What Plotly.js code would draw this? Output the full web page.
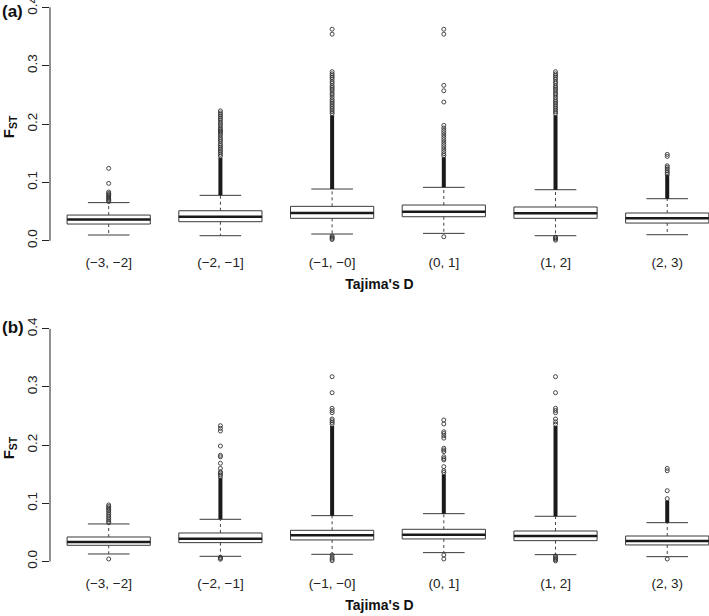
<!DOCTYPE html>
<html>
<head>
<meta charset="utf-8">
<script src="https://cdn.plot.ly/plotly-3.0.1.min.js"></script>
<style>html,body{margin:0;padding:0;background:#fff;}#chart{width:709px;height:616px;}</style>
</head>
<body>
<div id="chart"></div>
<script>
// ---- data ----
const categories = ["(\u22123, \u22122]", "(\u22122, \u22121]", "(\u22121, \u22120]", "(0, 1]", "(1, 2]", "(2, 3)"];
const yTickVals = [0, 0.1, 0.2, 0.3, 0.4];
const yTickText = ["0.0", "0.1", "0.2", "0.3", "0.4"];

// panel (a)
const aLower  = [0.0098, 0.0086, 0.0115, 0.0126, 0.0086, 0.0103];
const aQ1     = [0.0286, 0.0326, 0.0384, 0.0411, 0.0384, 0.0303];
const aMedian = [0.0362, 0.0411, 0.0477, 0.0497, 0.0469, 0.0384];
const aQ3     = [0.0440, 0.0514, 0.0589, 0.0612, 0.0578, 0.0475];
const aUpper  = [0.0653, 0.0778, 0.0886, 0.0915, 0.0874, 0.0720];
const aDenseLo = [null, 0.0778, 0.0886, 0.0915, 0.0874, 0.0720];
const aDenseHi = [null, 0.1420, 0.2150, 0.1430, 0.2150, 0.1130];
const aOutliers = [
  [0.124, 0.0983, 0.0835, 0.081, 0.079, 0.077, 0.075, 0.073, 0.071, 0.069, 0.067],
  [0.145, 0.148, 0.151, 0.154, 0.157, 0.160, 0.163, 0.166, 0.170, 0.173, 0.176, 0.180, 0.183, 0.186, 0.188, 0.190, 0.193, 0.197, 0.200, 0.203, 0.207, 0.210, 0.213, 0.216, 0.219, 0.2225],
  [0.002, 0.004, 0.006, 0.008, 0.218, 0.221, 0.224, 0.227, 0.230, 0.233, 0.236, 0.239, 0.242, 0.246, 0.250, 0.253, 0.257, 0.260, 0.263, 0.266, 0.270, 0.273, 0.277, 0.280, 0.283, 0.286, 0.2897, 0.354, 0.3625],
  [0.0069, 0.146, 0.149, 0.153, 0.157, 0.161, 0.165, 0.169, 0.173, 0.177, 0.181, 0.185, 0.189, 0.193, 0.1977, 0.2377, 0.257, 0.2663, 0.354, 0.3625],
  [0.001, 0.003, 0.005, 0.006, 0.218, 0.221, 0.224, 0.227, 0.230, 0.233, 0.236, 0.239, 0.242, 0.246, 0.250, 0.253, 0.257, 0.260, 0.263, 0.266, 0.270, 0.273, 0.277, 0.280, 0.283, 0.286, 0.2897],
  [0.114, 0.117, 0.120, 0.123, 0.126, 0.1285, 0.1446, 0.148]
];

// panel (b)
const bLower  = [0.0129, 0.0089, 0.0123, 0.0152, 0.0117, 0.0083];
const bQ1     = [0.0278, 0.0324, 0.0370, 0.0387, 0.0358, 0.0284];
const bMedian = [0.0335, 0.0392, 0.0450, 0.0461, 0.0438, 0.0352];
const bQ3     = [0.0421, 0.0490, 0.0536, 0.0553, 0.0524, 0.0438];
const bUpper  = [0.0645, 0.0725, 0.0788, 0.0822, 0.0777, 0.0667];
const bDenseLo = [null, 0.0725, 0.0788, 0.0822, 0.0777, 0.0667];
const bDenseHi = [null, 0.1440, 0.2330, 0.1500, 0.2330, 0.1050];
const bOutliers = [
  [0.0043, 0.0667, 0.069, 0.072, 0.075, 0.078, 0.081, 0.084, 0.087, 0.0895, 0.092, 0.0945, 0.0971],
  [0.0038, 0.0055, 0.0072, 0.146, 0.149, 0.152, 0.154, 0.160, 0.1688, 0.180, 0.1825, 0.1985, 0.2243, 0.229, 0.2334],
  [0.0014, 0.004, 0.007, 0.0112, 0.236, 0.239, 0.242, 0.245, 0.2558, 0.2595, 0.2633, 0.2902, 0.3177],
  [0.0043, 0.0112, 0.153, 0.156, 0.163, 0.1745, 0.177, 0.180, 0.1888, 0.1917, 0.1946, 0.212, 0.216, 0.220, 0.223, 0.2364, 0.2432],
  [0.001, 0.003, 0.005, 0.007, 0.0095, 0.236, 0.240, 0.245, 0.2558, 0.2595, 0.2633, 0.2902, 0.3177],
  [0.0043, 0.108, 0.1217, 0.156, 0.160]
];

// ---- drawing ----
const BOXW = 0.745;
const STAPLE = BOXW / 4;
const ink = '#1a1a1a';

function panelTraces(lower, q1, med, q3, upper, dLo, dHi, outl, xa, ya) {
  const pos = categories.map((c, i) => i + 1);
  const traces = [];
  traces.push({
    type: 'box', x: pos, q1: q1, median: med, q3: q3,
    lowerfence: q1, upperfence: q3, width: BOXW, whiskerwidth: 0,
    fillcolor: 'white', line: {color: '#3a3a3a', width: 1},
    boxpoints: false, hoverinfo: 'skip', xaxis: xa, yaxis: ya
  });
  const wx = [], wy = [], sx = [], sy = [], mx = [], my = [], dx = [], dy = [], ox = [], oy = [];
  pos.forEach((p, i) => {
    wx.push(p, p, null, p, p, null);
    wy.push(q3[i], upper[i], null, q1[i], lower[i], null);
    sx.push(p - STAPLE, p + STAPLE, null, p - STAPLE, p + STAPLE, null);
    sy.push(upper[i], upper[i], null, lower[i], lower[i], null);
    mx.push(p - BOXW / 2, p + BOXW / 2, null);
    my.push(med[i], med[i], null);
    if (dLo[i] !== null) { dx.push(p, p, null); dy.push(dLo[i], dHi[i], null); }
    outl[i].forEach(v => { ox.push(p); oy.push(v); });
  });
  traces.push({type: 'scatter', mode: 'lines', x: wx, y: wy, xaxis: xa, yaxis: ya, hoverinfo: 'skip',
    line: {color: '#444', width: 1, dash: '3px,3px'}});
  traces.push({type: 'scatter', mode: 'lines', x: sx, y: sy, xaxis: xa, yaxis: ya, hoverinfo: 'skip',
    line: {color: '#3a3a3a', width: 1}});
  traces.push({type: 'scatter', mode: 'lines', x: mx, y: my, xaxis: xa, yaxis: ya, hoverinfo: 'skip',
    line: {color: ink, width: 2.5}});
  traces.push({type: 'scatter', mode: 'lines', x: dx, y: dy, xaxis: xa, yaxis: ya, hoverinfo: 'skip',
    line: {color: ink, width: 4}});
  traces.push({type: 'scatter', mode: 'markers', x: ox, y: oy, xaxis: xa, yaxis: ya, hoverinfo: 'skip',
    cliponaxis: false,
    marker: {symbol: 'circle-open', size: 4, color: '#333', line: {width: 0.9, color: '#333'}}});
  return traces;
}

const data = [].concat(
  panelTraces(aLower, aQ1, aMedian, aQ3, aUpper, aDenseLo, aDenseHi, aOutliers, 'x', 'y'),
  panelTraces(bLower, bQ1, bMedian, bQ3, bUpper, bDenseLo, bDenseHi, bOutliers, 'x2', 'y2')
);

const FONT = 'Liberation Sans, Arial, Helvetica, sans-serif';
const xLeft = 50 / 709;
function xAxis(anchor) {
  return {
    domain: [xLeft, 1], range: [0.4745, 6.374], anchor: anchor,
    tickvals: categories.map((c, i) => i + 1), ticktext: categories,
    ticks: '', showgrid: false, zeroline: false, showline: false,
    ticklabelstandoff: 3, ticklabeloverflow: 'allow',
    tickfont: {family: FONT, size: 13.5, color: '#222'},
    title: {text: "<b>Tajima's D</b>", font: {family: FONT, size: 14, color: '#111'}, standoff: 10}
  };
}
function yAxis(domain, anchor) {
  return {
    domain: domain, range: [-0.015, 0.405], anchor: anchor,
    tickvals: yTickVals, ticktext: yTickText, tickangle: -90,
    ticks: 'outside', ticklen: 7, tickwidth: 1, tickcolor: '#222',
    showgrid: false, zeroline: false, showline: false,
    ticklabeloverflow: 'allow',
    tickfont: {family: FONT, size: 13.5, color: '#222'},
    title: {text: '<b>F<sub>ST</sub></b>', font: {family: FONT, size: 15, color: '#111'}, standoff: 8}
  };
}

const layout = {
  width: 709, height: 616,
  margin: {l: 0, r: 0, t: 0, b: 0},
  paper_bgcolor: 'white', plot_bgcolor: 'white',
  showlegend: false,
  font: {family: FONT, color: '#222'},
  xaxis: xAxis('y'),
  yaxis: yAxis([0.5950, 0.99286], 'x'),
  xaxis2: xAxis('y2'),
  yaxis2: yAxis([0.07435, 0.47094], 'x2'),
  shapes: [
    {type: 'line', xref: 'paper', yref: 'y', x0: xLeft, x1: xLeft, y0: 0, y1: 0.4, line: {color: '#222', width: 1}},
    {type: 'line', xref: 'paper', yref: 'y2', x0: xLeft, x1: xLeft, y0: 0, y1: 0.4, line: {color: '#222', width: 1}}
  ],
  annotations: [
    {text: '<b>(a)</b>', xref: 'paper', yref: 'paper', x: 0, y: 1 - 11 / 616, xanchor: 'left', yanchor: 'middle', showarrow: false, font: {family: FONT, size: 17, color: '#111'}},
    {text: '<b>(b)</b>', xref: 'paper', yref: 'paper', x: 0, y: 1 - 327 / 616, xanchor: 'left', yanchor: 'middle', showarrow: false, font: {family: FONT, size: 17, color: '#111'}}
  ]
};

Plotly.newPlot('chart', data, layout, {staticPlot: true, displayModeBar: false});
</script>
</body>
</html>
